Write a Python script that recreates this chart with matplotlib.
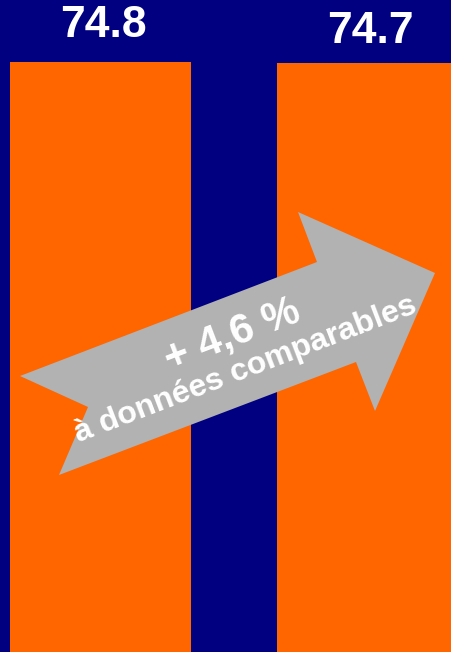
import matplotlib.pyplot as plt
from matplotlib.patches import Polygon

# values
categories = ['A', 'B']
values = [74.8, 74.7]
value_labels = ['74.8', '74.7']
arrow_main = '+ 4,6 %'
arrow_sub = 'à données comparables'

W, H = 451, 652
fig = plt.figure(figsize=(W / 100, H / 100), dpi=100, facecolor='#000080')
ax = fig.add_axes([0, 0, 1, 1])
ax.set_facecolor('#000080')

x = range(len(categories))
bars = ax.bar(x, values, width=0.678, color='#FF6600', linewidth=0)
ax.set_xlim(-0.3764, 1.3127)
ax.set_ylim(0, 82.66)
ax.axis('off')

# value labels above the bars
offsets = [16, 11]
for b, lab, off in zip(bars, value_labels, offsets):
    ax.annotate(lab, (b.get_x() + b.get_width() / 2, b.get_height()),
                xytext=(2, off * 0.72), textcoords='offset points',
                ha='center', va='bottom', color='white', fontsize=32,
                fontweight='bold', family='Liberation Sans')

# grey notched arrow (figure pixel coords, y down)
arrow_px = [(20, 376), (88, 407), (59, 475), (356, 362), (375, 411),
            (435, 273), (298, 212), (317, 262)]
pts = [(px / W, 1 - py / H) for px, py in arrow_px]
fig.patches.append(Polygon(pts, closed=True, facecolor='#B2B2B2',
                           edgecolor='none', transform=fig.transFigure))

fig.text(232 / W, 1 - 335 / H, arrow_main, rotation=21, ha='center', va='center',
         color='white', fontsize=30, fontweight='bold', family='Liberation Sans')
fig.text(246 / W, 1 - 370 / H, arrow_sub, rotation=21, ha='center', va='center',
         color='white', fontsize=23, fontweight='bold', family='Liberation Sans')

fig.savefig('out.png', dpi=100, facecolor='#000080')
